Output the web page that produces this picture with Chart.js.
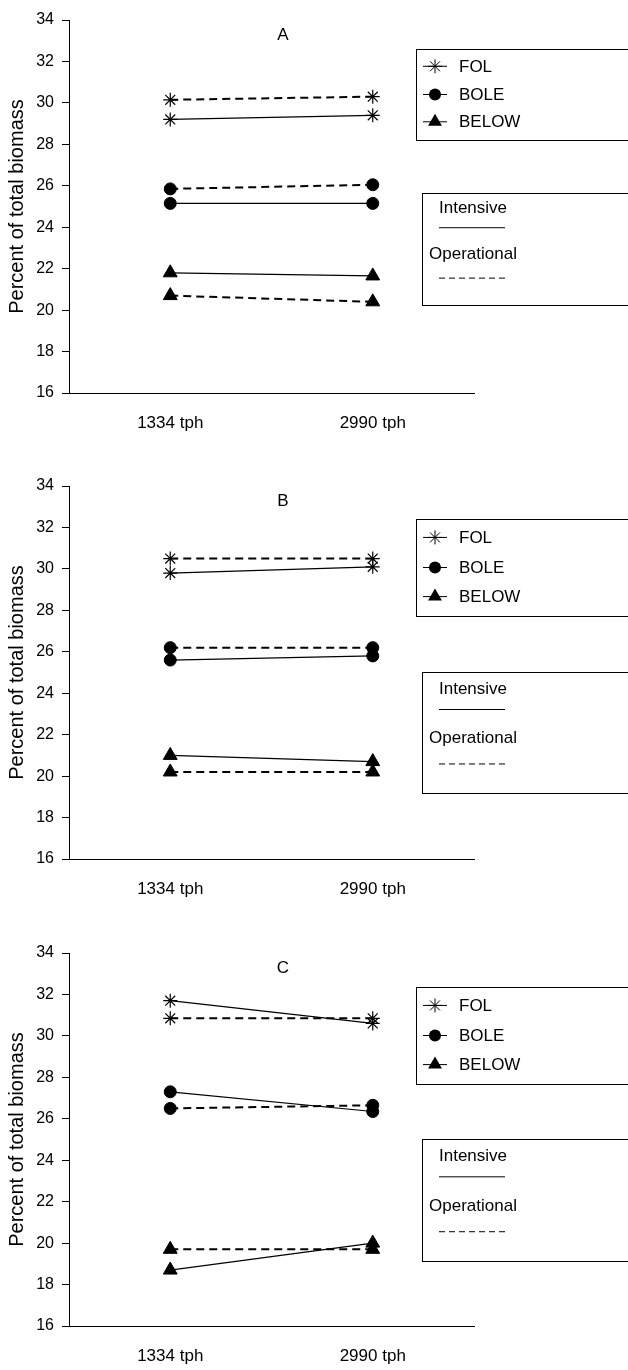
<!DOCTYPE html>
<html>
<head>
<meta charset="utf-8">
<script src="https://cdn.jsdelivr.net/npm/chart.js@4/dist/chart.umd.min.js"></script>
<style>
  html, body { margin: 0; padding: 0; background: #fff; }
  body { width: 628px; height: 1370px; overflow: hidden; position: relative; }
  .panel { position: absolute; left: 0; width: 628px; height: 466px; }
</style>
</head>
<body>
<div class="panel" style="top:0px"><canvas id="chartA" width="628" height="466"></canvas></div>
<div class="panel" style="top:466px"><canvas id="chartB" width="628" height="466"></canvas></div>
<div class="panel" style="top:933px"><canvas id="chartC" width="628" height="466"></canvas></div>
<script>
const categories = ["1334 tph", "2990 tph"];
const panelNames = ["A", "B", "C"];
const yMin = 16, yMax = 34, yStep = 2;

// one pair of values per panel (A, B, C)
const folIntensive = [[29.2, 29.4], [29.8, 30.1], [31.7, 30.6]];
const folOperational = [[30.15, 30.3], [30.5, 30.5], [30.85, 30.85]];
const boleIntensive = [[25.15, 25.15], [25.6, 25.8], [27.3, 26.35]];
const boleOperational = [[25.85, 26.05], [26.2, 26.2], [26.5, 26.65]];
const belowIntensive = [[21.8, 21.65], [21.0, 20.7], [18.7, 20.0]];
const belowOperational = [[20.7, 20.4], [20.2, 20.2], [19.7, 19.7]];

const FONT = '"Liberation Sans", Arial, sans-serif';

// legend box positions relative to the top of the plot area
const legendBoxes = [
    { key: [29, 120], style: [173, 285] },
    { key: [33, 130], style: [186, 307] },
    { key: [34, 131], style: [186, 308] }
];

function marker(ctx, shape, x, y) {
    ctx.beginPath();
    if (shape === 'circle') {
        ctx.arc(x, y, 6, 0, Math.PI * 2);
        ctx.fill();
    } else if (shape === 'triangle') {
        const r = 8;
        ctx.moveTo(x, y - r);
        ctx.lineTo(x + r * 0.866, y + r * 0.5);
        ctx.lineTo(x - r * 0.866, y + r * 0.5);
        ctx.closePath();
        ctx.fill();
    } else {
        const r = 7;
        for (let i = 0; i < 4; i++) {
            const a = i * Math.PI / 4;
            ctx.moveTo(x - r * Math.sin(a), y - r * Math.cos(a));
            ctx.lineTo(x + r * Math.sin(a), y + r * Math.cos(a));
        }
        ctx.stroke();
    }
}

const decoPlugin = {
    id: 'deco',
    afterDraw(chart, args, opts) {
        const ctx = chart.ctx;
        const a = chart.chartArea;
        const box = legendBoxes[opts.index];
        ctx.save();
        ctx.fillStyle = '#000';
        ctx.strokeStyle = '#000';
        ctx.lineWidth = 1;
        ctx.textBaseline = 'middle';

        ctx.font = '17px ' + FONT;
        ctx.textAlign = 'center';
        ctx.fillText(opts.letter, 283, a.top + 15);

        // key legend
        let t = a.top + box.key[0], h = box.key[1] - box.key[0];
        ctx.strokeRect(416.5, Math.round(t) + 0.5, 240, Math.round(h));
        const names = ['FOL', 'BOLE', 'BELOW'];
        const shapes = ['star', 'circle', 'triangle'];
        ctx.textAlign = 'left';
        [0.19, 0.5, 0.8].forEach((f, i) => {
            const y = t + h * f;
            ctx.beginPath();
            ctx.moveTo(423, y);
            ctx.lineTo(447, y);
            ctx.stroke();
            marker(ctx, shapes[i], 435, y);
            ctx.fillText(names[i], 459, y + 1);
        });

        // line style legend
        t = a.top + box.style[0];
        h = box.style[1] - box.style[0];
        ctx.strokeRect(422.5, Math.round(t) + 0.5, 240, Math.round(h));
        ctx.textAlign = 'center';
        ctx.fillText('Intensive', 473, t + h * 0.14);
        ctx.beginPath();
        ctx.moveTo(439, t + h * 0.31);
        ctx.lineTo(505, t + h * 0.31);
        ctx.stroke();
        ctx.fillText('Operational', 473, t + h * 0.55);
        ctx.setLineDash([6, 4]);
        ctx.beginPath();
        ctx.moveTo(439, t + h * 0.76);
        ctx.lineTo(505, t + h * 0.76);
        ctx.stroke();
        ctx.restore();
    }
};

function series(values, shape, dashed) {
    return {
        data: values,
        borderColor: '#000',
        backgroundColor: '#000',
        borderWidth: dashed ? 2 : 1.2,
        borderDash: dashed ? [8, 5] : [],
        pointStyle: shape,
        pointRadius: shape === 'circle' ? 6 : (shape === 'triangle' ? 8 : 7),
        pointBorderWidth: shape === 'star' ? 1.2 : 1,
        pointBackgroundColor: '#000',
        pointBorderColor: '#000',
        tension: 0
    };
}

panelNames.forEach((name, i) => {
    new Chart(document.getElementById('chart' + name), {
        type: 'line',
        data: {
            labels: categories,
            datasets: [
                series(folIntensive[i], 'star', false),
                series(folOperational[i], 'star', true),
                series(boleIntensive[i], 'circle', false),
                series(boleOperational[i], 'circle', true),
                series(belowIntensive[i], 'triangle', false),
                series(belowOperational[i], 'triangle', true)
            ]
        },
        options: {
            responsive: false,
            animation: false,
            layout: { padding: { top: 20, right: 154, left: 0, bottom: 0 } },
            plugins: {
                legend: { display: false },
                tooltip: { enabled: false },
                deco: { letter: name, index: i }
            },
            scales: {
                x: {
                    type: 'category',
                    offset: true,
                    grid: { display: false, drawTicks: false },
                    border: { display: true, color: '#000', width: 1 },
                    ticks: { color: '#000', font: { family: FONT, size: 17 }, padding: 20 },
                    afterFit: s => { s.height = 73; }
                },
                y: {
                    min: yMin,
                    max: yMax,
                    grid: { drawOnChartArea: false, drawTicks: true, tickLength: 7, color: '#000' },
                    border: { display: true, color: '#000', width: 1 },
                    ticks: { stepSize: yStep, color: '#000', font: { family: FONT, size: 16 }, padding: 8 },
                    title: {
                        display: true,
                        text: 'Percent of total biomass',
                        color: '#000',
                        font: { family: FONT, size: 20 },
                        padding: { top: 5, bottom: 0 }
                    },
                    afterFit: s => { s.width = 69; }
                }
            }
        },
        plugins: [decoPlugin]
    });
});
</script>
</body>
</html>
